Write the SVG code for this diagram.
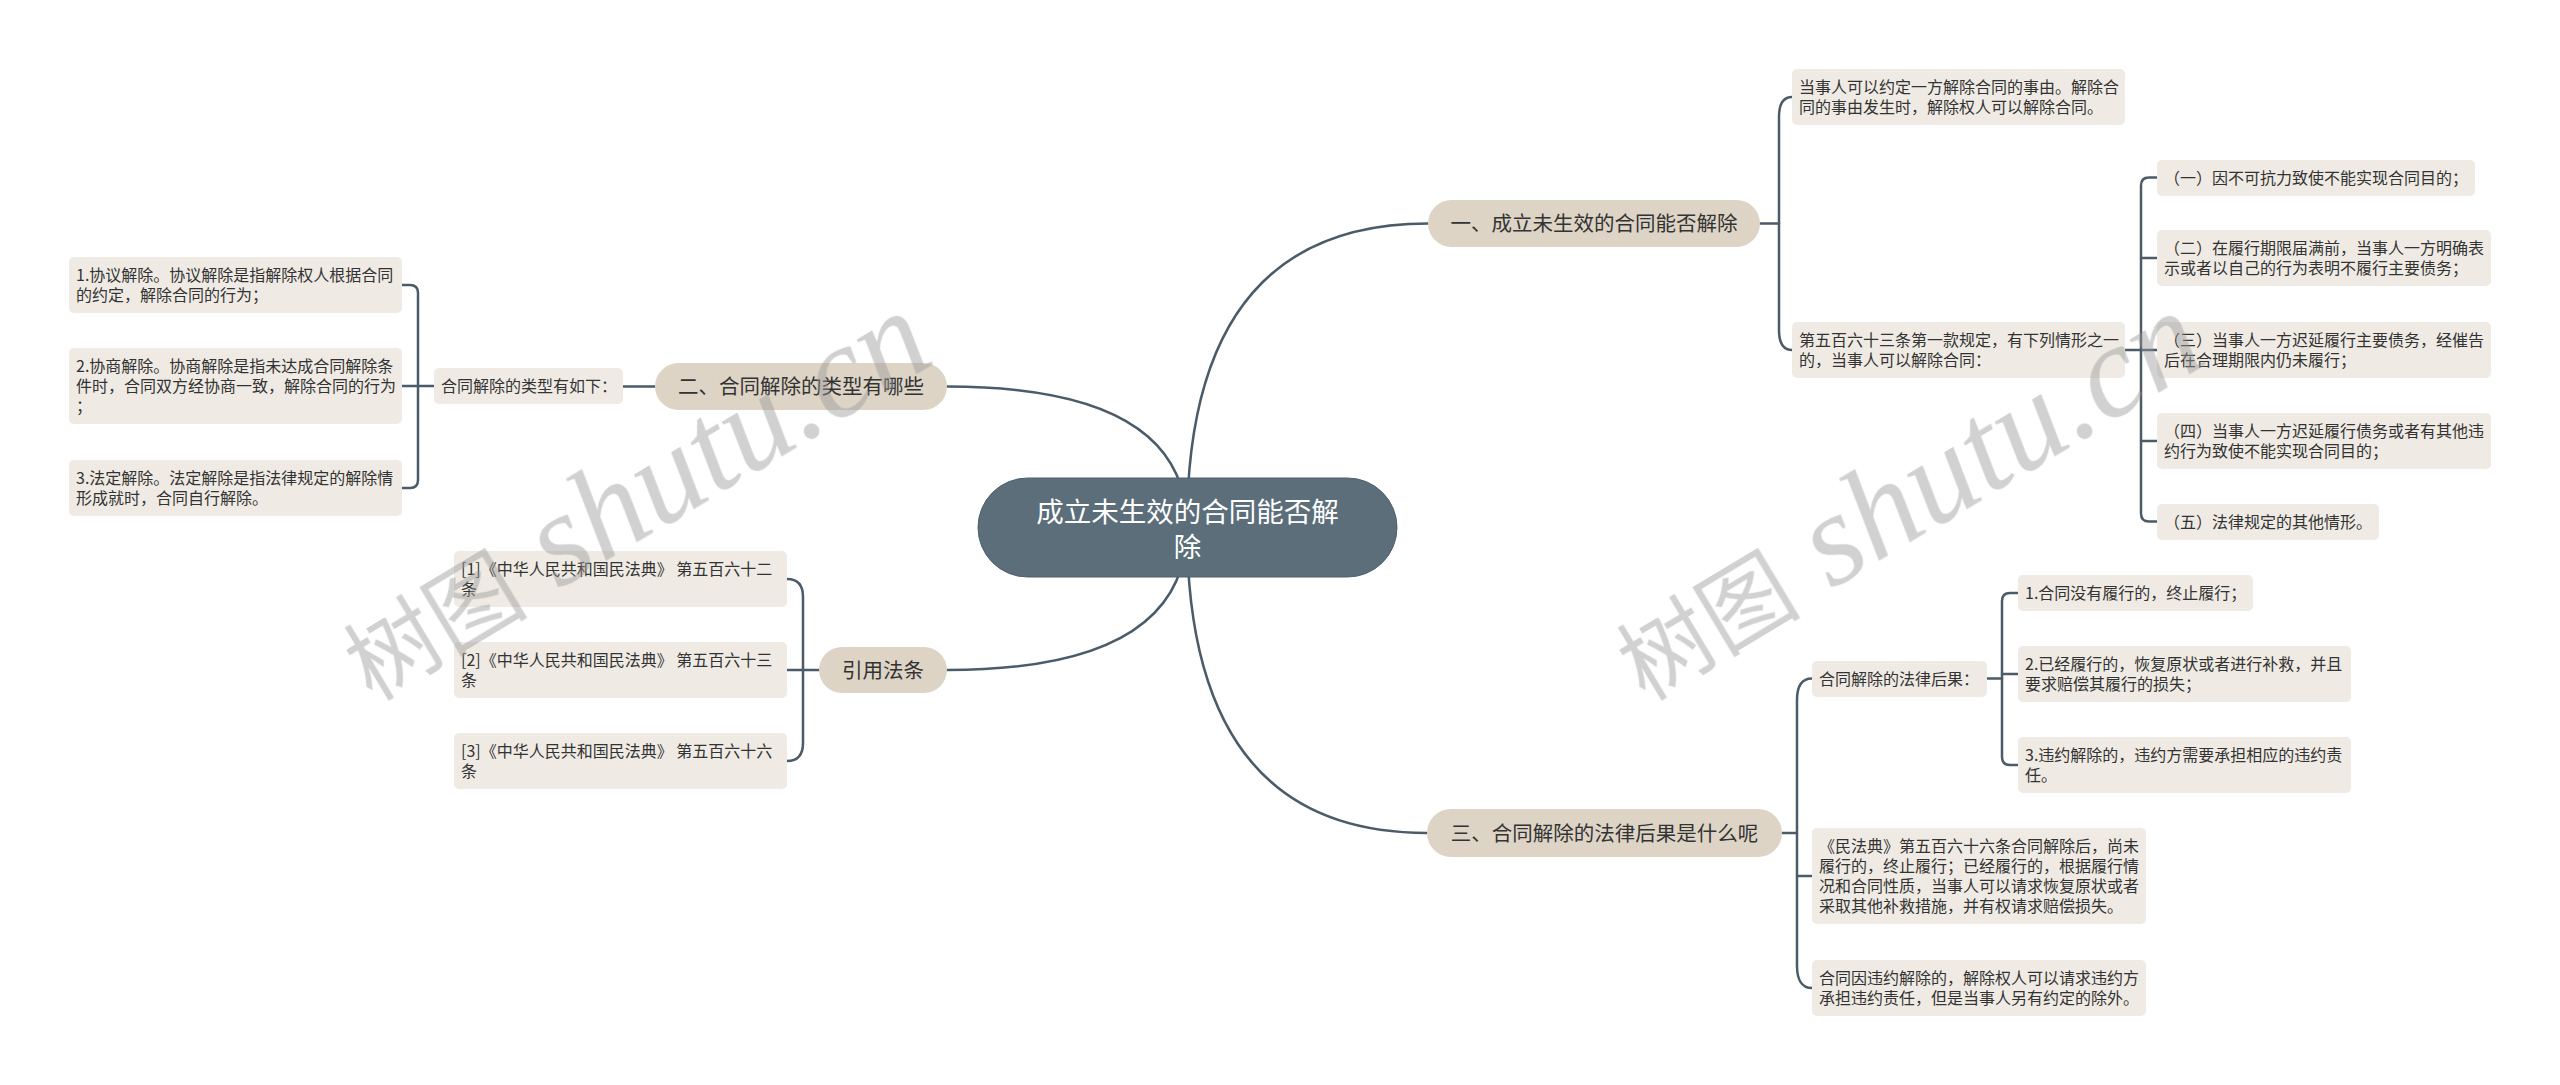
<svg xmlns="http://www.w3.org/2000/svg" width="2560" height="1085" viewBox="0 0 2560 1085">
<style>
.bg{fill:#ffffff}
.ln{fill:none;stroke:#4b5b67;stroke-width:2.5;stroke-linecap:round}
.leaf{fill:#efebe4}
.br{fill:#ddd4c6}
.root{fill:#5b6e7a;stroke:#4f616d;stroke-width:1}
.t{font-family:"Noto Sans CJK SC","Microsoft YaHei",sans-serif;font-size:16px;fill:#333333}
.bt{font-family:"Noto Sans CJK SC","Microsoft YaHei",sans-serif;font-size:20.5px;fill:#333333;text-anchor:middle}
.rt{font-family:"Noto Sans CJK SC","Microsoft YaHei",sans-serif;font-size:27.5px;fill:#ffffff;text-anchor:middle}
.wm{fill:#999999;opacity:0.45}
.wcjk{font-family:"Noto Sans CJK SC",sans-serif;font-size:92px}
.wlat{font-family:"Liberation Serif",serif;font-style:italic;font-size:132px}
</style>
<rect class="bg" x="0" y="0" width="2560" height="1085"/>

<g id="connectors">
  <path class="ln" d="M1187,527 Q1187,223.5 1428,223.5"/>
  <path class="ln" d="M1187,527 Q1187,386.5 947,386.5"/>
  <path class="ln" d="M1187,527 Q1187,670 947,670"/>
  <path class="ln" d="M1187,527 Q1187,833 1427,833"/>
  <!-- 二 -->
  <path class="ln" d="M623,386.5 L655,386.5"/>
  <path class="ln" d="M434,386 L402,386"/>
  <path class="ln" d="M402,285 L410,285 Q418,285 418,293 L418,480 Q418,488 410,488 L402,488"/>
  <!-- 引用法条 -->
  <path class="ln" d="M819,670 L787,670"/>
  <path class="ln" d="M787,579 C798,579 803,585 803,597 L803,743 C803,755 798,761 787,761"/>
  <!-- 一 -->
  <path class="ln" d="M1760,223.5 L1779,223.5"/>
  <path class="ln" d="M1792,97 C1782,97 1779,105 1779,117 L1779,330 C1779,342 1782,350 1792,350"/>
  <path class="ln" d="M2125,350 L2157,350"/>
  <path class="ln" d="M2157,177.5 L2149,177.5 Q2141,177.5 2141,185.5 L2141,513.5 Q2141,521.5 2149,521.5 L2157,521.5"/>
  <path class="ln" d="M2141,258 L2157,258"/>
  <path class="ln" d="M2141,441 L2157,441"/>
  <!-- 三 -->
  <path class="ln" d="M1782,833 L1797,833"/>
  <path class="ln" d="M1812,678.5 C1801,678.5 1797,688 1797,700 L1797,966 C1797,978 1801,988 1812,988"/>
  <path class="ln" d="M1797,876 L1812,876"/>
  <path class="ln" d="M1987,678.5 L2002,678.5"/>
  <path class="ln" d="M2018,593 L2010,593 Q2002,593 2002,601 L2002,757 Q2002,765 2010,765 L2018,765"/>
  <path class="ln" d="M2002,674 L2018,674"/>
</g>

<g id="root">
  <rect class="root" x="978" y="478" width="419" height="99" rx="49.5"/>
  <text class="rt" x="1187.5" y="522">成立未生效的合同能否解</text>
  <text class="rt" x="1187.5" y="557">除</text>
</g>

<g id="b1">
  <rect class="br" x="1428" y="200" width="332" height="47" rx="23.5"/>
  <text class="bt" x="1594" y="231">一、成立未生效的合同能否解除</text>
</g>
<g id="b2">
  <rect class="br" x="655" y="363" width="292" height="47" rx="23.5"/>
  <text class="bt" x="801" y="394">二、合同解除的类型有哪些</text>
</g>
<g id="b3">
  <rect class="br" x="819" y="647" width="128" height="46" rx="23"/>
  <text class="bt" x="883" y="677.5">引用法条</text>
</g>
<g id="b4">
  <rect class="br" x="1427" y="809" width="355" height="48" rx="24"/>
  <text class="bt" x="1604.5" y="841">三、合同解除的法律后果是什么呢</text>
</g>

<g id="n2-mid">
  <rect class="leaf" x="434" y="368" width="189" height="36" rx="5"/>
  <text class="t" x="441" y="391.5">合同解除的类型有如下：</text>
</g>
<g id="n2-1">
  <rect class="leaf" x="69" y="257" width="333" height="56" rx="5"/>
  <text class="t" x="76" y="280.5">1.协议解除。协议解除是指解除权人根据合同</text>
  <text class="t" x="76" y="300.5">的约定，解除合同的行为；</text>
</g>
<g id="n2-2">
  <rect class="leaf" x="69" y="348" width="333" height="76" rx="5"/>
  <text class="t" x="76" y="371.5">2.协商解除。协商解除是指未达成合同解除条</text>
  <text class="t" x="76" y="391.5">件时，合同双方经协商一致，解除合同的行为</text>
  <text class="t" x="76" y="411.5">；</text>
</g>
<g id="n2-3">
  <rect class="leaf" x="69" y="460" width="333" height="56" rx="5"/>
  <text class="t" x="76" y="483.5">3.法定解除。法定解除是指法律规定的解除情</text>
  <text class="t" x="76" y="503.5">形成就时，合同自行解除。</text>
</g>

<g id="c1">
  <rect class="leaf" x="454" y="551" width="333" height="56" rx="5"/>
  <text class="t" x="461" y="574.5">[1]《中华人民共和国民法典》 第五百六十二</text>
  <text class="t" x="461" y="594.5">条</text>
</g>
<g id="c2">
  <rect class="leaf" x="454" y="642" width="333" height="56" rx="5"/>
  <text class="t" x="461" y="665.5">[2]《中华人民共和国民法典》 第五百六十三</text>
  <text class="t" x="461" y="685.5">条</text>
</g>
<g id="c3">
  <rect class="leaf" x="454" y="733" width="333" height="56" rx="5"/>
  <text class="t" x="461" y="756.5">[3]《中华人民共和国民法典》 第五百六十六</text>
  <text class="t" x="461" y="776.5">条</text>
</g>

<g id="n1-1">
  <rect class="leaf" x="1792" y="69" width="333" height="56" rx="5"/>
  <text class="t" x="1799" y="92.5">当事人可以约定一方解除合同的事由。解除合</text>
  <text class="t" x="1799" y="112.5">同的事由发生时，解除权人可以解除合同。</text>
</g>
<g id="n1-2">
  <rect class="leaf" x="1792" y="322" width="333" height="56" rx="5"/>
  <text class="t" x="1799" y="345.5">第五百六十三条第一款规定，有下列情形之一</text>
  <text class="t" x="1799" y="365.5">的，当事人可以解除合同：</text>
</g>
<g id="n1-2-1">
  <rect class="leaf" x="2157" y="160" width="318" height="36" rx="5"/>
  <text class="t" x="2164" y="183.5">（一）因不可抗力致使不能实现合同目的；</text>
</g>
<g id="n1-2-2">
  <rect class="leaf" x="2157" y="230" width="334" height="56" rx="5"/>
  <text class="t" x="2164" y="253.5">（二）在履行期限届满前，当事人一方明确表</text>
  <text class="t" x="2164" y="273.5">示或者以自己的行为表明不履行主要债务；</text>
</g>
<g id="n1-2-3">
  <rect class="leaf" x="2157" y="322" width="334" height="56" rx="5"/>
  <text class="t" x="2164" y="345.5">（三）当事人一方迟延履行主要债务，经催告</text>
  <text class="t" x="2164" y="365.5">后在合理期限内仍未履行；</text>
</g>
<g id="n1-2-4">
  <rect class="leaf" x="2157" y="413" width="334" height="56" rx="5"/>
  <text class="t" x="2164" y="436.5">（四）当事人一方迟延履行债务或者有其他违</text>
  <text class="t" x="2164" y="456.5">约行为致使不能实现合同目的；</text>
</g>
<g id="n1-2-5">
  <rect class="leaf" x="2157" y="504" width="222" height="36" rx="5"/>
  <text class="t" x="2164" y="527.5">（五）法律规定的其他情形。</text>
</g>

<g id="n3-1">
  <rect class="leaf" x="1812" y="661" width="175" height="36" rx="5"/>
  <text class="t" x="1819" y="684.5">合同解除的法律后果：</text>
</g>
<g id="n3-1-1">
  <rect class="leaf" x="2018" y="575" width="235" height="36" rx="5"/>
  <text class="t" x="2025" y="598.5">1.合同没有履行的，终止履行；</text>
</g>
<g id="n3-1-2">
  <rect class="leaf" x="2018" y="646" width="333" height="56" rx="5"/>
  <text class="t" x="2025" y="669.5">2.已经履行的，恢复原状或者进行补救，并且</text>
  <text class="t" x="2025" y="689.5">要求赔偿其履行的损失；</text>
</g>
<g id="n3-1-3">
  <rect class="leaf" x="2018" y="737" width="333" height="56" rx="5"/>
  <text class="t" x="2025" y="760.5">3.违约解除的，违约方需要承担相应的违约责</text>
  <text class="t" x="2025" y="780.5">任。</text>
</g>
<g id="n3-2">
  <rect class="leaf" x="1812" y="828" width="334" height="96" rx="5"/>
  <text class="t" x="1819" y="851.5">《民法典》第五百六十六条合同解除后，尚未</text>
  <text class="t" x="1819" y="871.5">履行的，终止履行；已经履行的，根据履行情</text>
  <text class="t" x="1819" y="891.5">况和合同性质，当事人可以请求恢复原状或者</text>
  <text class="t" x="1819" y="911.5">采取其他补救措施，并有权请求赔偿损失。</text>
</g>
<g id="n3-3">
  <rect class="leaf" x="1812" y="960" width="334" height="56" rx="5"/>
  <text class="t" x="1819" y="983.5">合同因违约解除的，解除权人可以请求违约方</text>
  <text class="t" x="1819" y="1003.5">承担违约责任，但是当事人另有约定的除外。</text>
</g>

<g id="watermarks" class="wm">
  <text transform="translate(372,702) rotate(-31)"><tspan class="wcjk">树图</tspan><tspan class="wlat"> shutu.cn</tspan></text>
  <text transform="translate(1645,702) rotate(-31)"><tspan class="wcjk">树图</tspan><tspan class="wlat"> shutu.cn</tspan></text>
</g>
</svg>
